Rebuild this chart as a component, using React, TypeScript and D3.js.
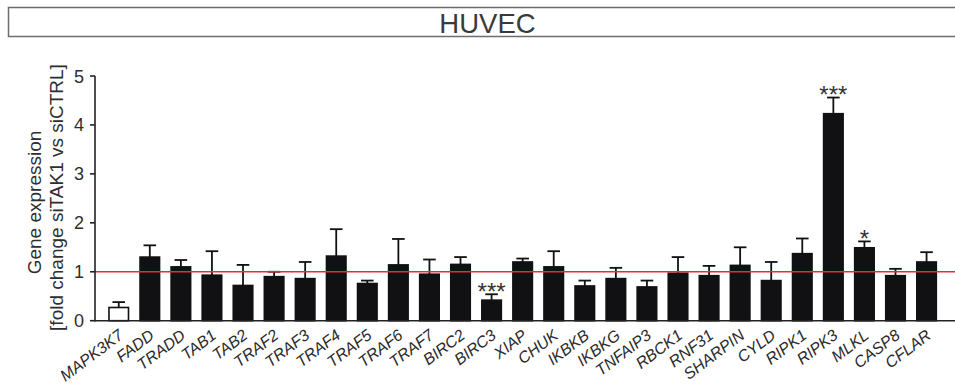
import React from "react";
import * as d3 from "d3";

const genes = ["MAPK3K7","FADD","TRADD","TAB1","TAB2","TRAF2","TRAF3","TRAF4","TRAF5","TRAF6","TRAF7","BIRC2","BIRC3","XIAP","CHUK","IKBKB","IKBKG","TNFAIP3","RBCK1","RNF31","SHARPIN","CYLD","RIPK1","RIPK3","MLKL","CASP8","CFLAR"];
const means = [0.27,1.30,1.10,0.93,0.72,0.90,0.86,1.32,0.76,1.14,0.95,1.15,0.42,1.20,1.10,0.71,0.86,0.69,0.97,0.92,1.13,0.82,1.37,4.23,1.49,0.92,1.20];
const errTops = [0.38,1.54,1.24,1.42,1.14,1.00,1.20,1.87,0.82,1.67,1.25,1.30,0.54,1.27,1.42,0.82,1.08,0.82,1.30,1.12,1.50,1.20,1.68,4.56,1.62,1.06,1.40];
const stars = ["","","","","","","","","","","","","***","","","","","","","","","","","***","*","",""];
const yTicks = [0,1,2,3,4,5];
const title = "HUVEC";
const yLabel1 = "Gene expression";
const yLabel2 = "[fold change siTAK1 vs siCTRL]";

const W = 955, H = 391;
const FONT = "'Liberation Sans', Arial, Helvetica, sans-serif";

export default function App() {
  const x = d3.scaleBand<string>().domain(genes).range([103.2, 942.1]).paddingInner(0.372).paddingOuter(0.186);
  const y = d3.scaleLinear().domain([0, 5]).range([320.7, 76]);
  const bw = x.bandwidth();
  const cap = 12.6;
  const x0 = 95;
  return (
    <svg width={W} height={H} style={{ position: "absolute", left: 0, top: 0, background: "#fff" }} fontFamily={FONT}>
      <rect x={0} y={0} width={W} height={H} fill="#fff" />
      {/* title box */}
      <path d={`M ${W + 5} 7.5 H 8.5 V 36.5 H ${W + 5}`} fill="none" stroke="#6e6e6e" strokeWidth={1.5} />
      <text x={487.5} y={33} fontSize={27.5} textAnchor="middle" fill="#3a3a3a">{title}</text>

      {/* y axis label */}
      <text transform={`translate(40.5,202.5) rotate(-90)`} fill="#2e2e2e" fontSize={19} textAnchor="middle">{yLabel1}</text>
      <text transform={`translate(63,197.5) rotate(-90)`} fill="#2e2e2e" fontSize={19} textAnchor="middle">{yLabel2}</text>

      {/* bars */}
      {genes.map((g, i) => {
        const bx = x(g)!;
        const cx = bx + bw / 2;
        return (
          <g key={g}>
            <line x1={cx} x2={cx} y1={y(means[i])} y2={y(errTops[i])} stroke="#111" strokeWidth={1.8} />
            <line x1={cx - cap / 2} x2={cx + cap / 2} y1={y(errTops[i])} y2={y(errTops[i])} stroke="#111" strokeWidth={1.8} />
            <rect x={bx} y={y(means[i])} width={bw} height={y(0) - y(means[i])} fill={i === 0 ? "#fff" : "#111114"} stroke="#111" strokeWidth={1.6} />
            {stars[i] && (
              <text x={cx} y={y(errTops[i]) + 5.5} fontSize={24} textAnchor="middle" fill="#333">{stars[i]}</text>
            )}
          </g>
        );
      })}

      {/* reference line */}
      <line x1={x0} x2={W} y1={y(1)} y2={y(1)} stroke="#e2302c" strokeWidth={1.3} />

      {/* y axis */}
      <line x1={x0} x2={x0} y1={y(0) + 0.8} y2={y(5)} stroke="#222" strokeWidth={1.6} />
      {yTicks.map((t) => (
        <g key={t}>
          <line x1={x0 - 5} x2={x0} y1={y(t)} y2={y(t)} stroke="#222" strokeWidth={1.6} />
          <text x={84} y={y(t) + 6.5} fontSize={18} textAnchor="end" fill="#2e2e2e">{t}</text>
        </g>
      ))}
      {/* x axis */}
      <line x1={x0} x2={W} y1={y(0)} y2={y(0)} stroke="#222" strokeWidth={1.6} />
      {genes.map((g) => {
        const cx = x(g)! + bw / 2;
        return (
          <text key={g} transform={`translate(${cx + 5.5},${337.5}) rotate(-37)`} fontSize={16} fontStyle="italic" textAnchor="end" fill="#2a2a2a">{g}</text>
        );
      })}
    </svg>
  );
}
